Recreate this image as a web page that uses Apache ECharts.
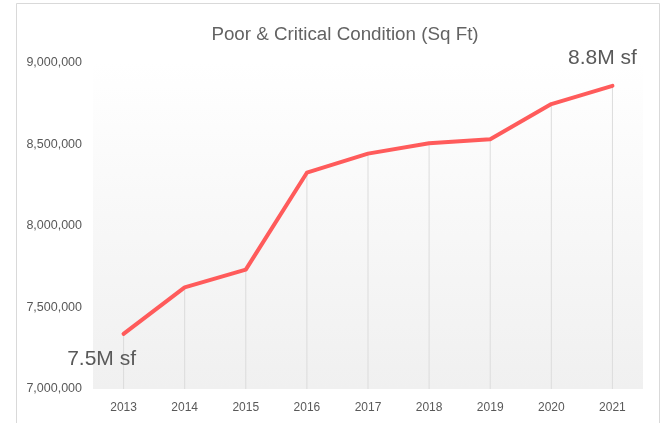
<!DOCTYPE html>
<html>
<head>
<meta charset="utf-8">
<script src="https://cdn.jsdelivr.net/npm/echarts@6/dist/echarts.min.js"></script>
<style>
html,body{margin:0;padding:0;background:#fff;}
#chart{width:664px;height:423px;}
</style>
</head>
<body>
<div id="chart"></div>
<script>
const years = ['2013','2014','2015','2016','2017','2018','2019','2020','2021'];
const sqft = [7338000, 7623000, 7732000, 8327000, 8444000, 8508000, 8532000, 8748000, 8860000];
const yTicks = [7000000, 7500000, 8000000, 8500000, 9000000];
const titleText = 'Poor & Critical Condition (Sq Ft)';
const startNote = '7.5M sf';
const endNote = '8.8M sf';

const chart = echarts.init(document.getElementById('chart'), null, {renderer:'canvas'});
const lineData = sqft.map((v, i) => {
  const item = {value: v};
  if (i === 0) {
    item.label = {show: true, formatter: startNote, position: 'inside', offset: [-22, 25]};
  } else if (i === sqft.length - 1) {
    item.label = {show: true, formatter: endNote, position: 'inside', offset: [-10, -28]};
  }
  return item;
});

chart.setOption({
  animation: false,
  backgroundColor: '#ffffff',
  title: {
    text: titleText,
    left: 340, top: 20, textAlign: 'center',
    textStyle: {fontFamily: 'Liberation Sans', fontSize: 18.8, fontWeight: 'normal', color: '#636363'}
  },
  graphic: [{
    type: 'rect', silent: true, z: -10,
    shape: {x: 16.5, y: 3.5, width: 643, height: 460},
    style: {fill: 'none', stroke: '#d9d9d9', lineWidth: 1}
  }],
  grid: {
    left: 93, right: 21, top: 63, bottom: 34,
    show: true, borderWidth: 0,
    backgroundColor: {type: 'linear', x: 0, y: 0, x2: 0, y2: 1,
      colorStops: [{offset: 0, color: '#ffffff'}, {offset: 1, color: '#f0f0f0'}]}
  },
  xAxis: {
    type: 'category', data: years, boundaryGap: true,
    axisLine: {show: false}, axisTick: {show: false}, splitLine: {show: false},
    axisLabel: {fontFamily: 'Liberation Sans', fontSize: 12, color: '#595959', margin: 13}
  },
  yAxis: {
    type: 'value', min: yTicks[0], max: yTicks[yTicks.length - 1], interval: 500000,
    axisLine: {show: false}, axisTick: {show: false}, splitLine: {show: false},
    axisLabel: {fontFamily: 'Liberation Sans', fontSize: 12.5, color: '#595959', margin: 11,
      formatter: v => v.toLocaleString('en-US')}
  },
  series: [
    {
      type: 'bar', data: sqft, barWidth: 1, z: 1, silent: true,
      itemStyle: {color: '#dcdcdc'}
    },
    {
      type: 'line', data: lineData, z: 5,
      symbol: 'circle', symbolSize: 0, showSymbol: true,
      itemStyle: {color: '#ff5b5b'},
      lineStyle: {color: '#ff5b5b', width: 4, cap: 'round', join: 'round'},
      label: {show: false, fontFamily: 'Liberation Sans', fontSize: 21, color: '#595959'}
    }
  ]
});
</script>
</body>
</html>
